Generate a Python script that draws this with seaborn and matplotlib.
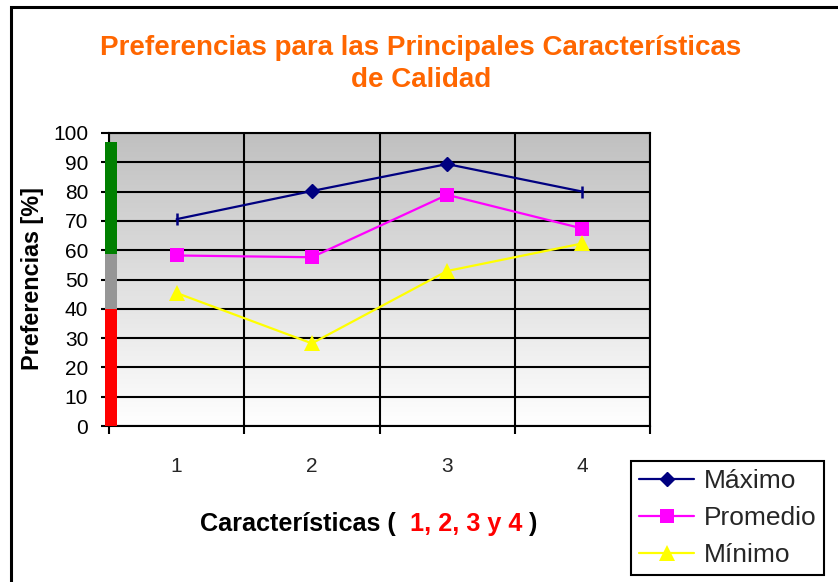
import numpy as np
import pandas as pd
import matplotlib
matplotlib.use("Agg")
import matplotlib.pyplot as plt
from matplotlib.lines import Line2D
from matplotlib.patches import Rectangle
import matplotlib.transforms as mtransforms
import seaborn as sns

# Data
caracteristicas = [1, 2, 3, 4]
maximo = [70.6, 80.2, 89.4, 80.0]
promedio = [58.2, 57.6, 78.9, 67.4]
minimo = [45.4, 28.2, 52.9, 62.3]
series_names = ["Máximo", "Promedio", "Mínimo"]
y_ticks = list(range(0, 101, 10))
# Colour scale on the value axis: (bottom, top, colour)
bandas = [(0, 40, "#FF0000"), (40, 58.7, "#969696"), (58.7, 97, "#008000")]

sns.set_theme(style="white")
plt.rcParams["font.family"] = ["Liberation Sans", "DejaVu Sans"]

W, H = 838, 582
fig = plt.figure(figsize=(W / 100, H / 100), dpi=100)
ax = fig.add_axes([109 / W, 1 - 426 / H, (650 - 109) / W, (426 - 133) / H])

# Grey-to-white gradient behind the plot area
grad = np.linspace(0, 1, 256).reshape(-1, 1)
cmap = matplotlib.colors.LinearSegmentedColormap.from_list("g", ["#C0C0C0", "#FFFFFF"])
ax.imshow(grad, cmap=cmap, aspect="auto", extent=[0, 1, 0, 1],
          transform=ax.transAxes, zorder=0, interpolation="bilinear")

df = pd.DataFrame({
    "Característica": caracteristicas * 3,
    "Valor": maximo + promedio + minimo,
    "Serie": np.repeat(series_names, len(caracteristicas)),
})

colors = {"Máximo": "#000080", "Promedio": "#FF00FF", "Mínimo": "#FFFF00"}

d_max = df[df["Serie"] == "Máximo"]
sns.lineplot(data=d_max, x="Característica", y="Valor", color=colors["Máximo"],
             lw=1.6, ax=ax, legend=False, zorder=3)
ax.plot(d_max["Característica"].iloc[1:3], d_max["Valor"].iloc[1:3], ls="none",
        marker="D", ms=7.5, color=colors["Máximo"], zorder=4)
ax.plot(d_max["Característica"].iloc[[0, 3]], d_max["Valor"].iloc[[0, 3]], ls="none",
        marker="|", ms=9, mew=1.8, color=colors["Máximo"], zorder=4)

d_prom = df[df["Serie"] == "Promedio"]
sns.lineplot(data=d_prom, x="Característica", y="Valor", color=colors["Promedio"],
             lw=1.6, marker="s", markersize=10.5, markeredgewidth=0,
             ax=ax, legend=False, zorder=3)

d_min = df[df["Serie"] == "Mínimo"]
sns.lineplot(data=d_min, x="Característica", y="Valor", color=colors["Mínimo"],
             lw=1.6, marker="^", markersize=11, markeredgewidth=0,
             ax=ax, legend=False, zorder=3)

ax.set_xlim(0.5, 4.5)
ax.set_ylim(0, 100)
ax.set_yticks(y_ticks)
ax.set_yticklabels([str(v) for v in y_ticks], fontsize=15, color="black")
ax.set_xticks([0.5, 1.5, 2.5, 3.5, 4.5])
ax.set_xticklabels([])
ax.set_xticks(caracteristicas, minor=True)
ax.set_xticklabels([str(c) for c in caracteristicas], minor=True, fontsize=15)
ax.tick_params(axis="x", which="minor", length=0, pad=22)
ax.tick_params(axis="x", which="major", length=6, width=1.5, color="black", direction="out")
ax.tick_params(axis="y", length=6, width=1.5, color="black", direction="out", pad=9)
ax.tick_params(bottom=True, left=True)
ax.grid(True, axis="y", color="black", lw=1.5, zorder=1)
ax.grid(True, axis="x", which="major", color="black", lw=1.5, zorder=1)
ax.set_axisbelow(False)
for s in ax.spines.values():
    s.set_color("black")
    s.set_linewidth(1.5)
    s.set_zorder(2)
ax.set_xlabel("")
ax.set_ylabel("")
for line in ax.get_xgridlines() + ax.get_ygridlines():
    line.set_zorder(1)

# Coloured scale bar over the value axis
trans = mtransforms.blended_transform_factory(ax.transAxes, ax.transData)
for lo, hi, c in bandas:
    ax.add_patch(Rectangle((-4 / 541, lo), 12 / 541, hi - lo, transform=trans,
                           color=c, clip_on=False, zorder=5, lw=0))

# Titles and axis labels
fig.text(421 / W, 1 - 48 / H, "Preferencias para las Principales Características",
         ha="center", va="center", fontsize=20, fontweight="bold", color="#FF6600")
fig.text(421 / W, 1 - 80 / H, "de Calidad",
         ha="center", va="center", fontsize=20, fontweight="bold", color="#FF6600")
fig.text(32 / W, 1 - 278 / H, "Preferencias [%]", rotation=90, ha="center", va="center",
         fontsize=16.8, fontweight="bold", color="black")

fig.canvas.draw()
renderer = fig.canvas.get_renderer()
parts = [("Características (  ", "black"), ("1, 2, 3 y 4", "#FF0000"), (" )", "black")]
x0 = 200
for s, c in parts:
    t = fig.text(x0 / W, 1 - 524 / H, s, ha="left", va="center", fontsize=18.2,
                 fontweight="bold", color=c)
    bb = t.get_window_extent(renderer)
    x0 = bb.x1

# Figure frame
fig.patches.append(Rectangle((11 / W, -0.1), 1.2, 1 - 7 / H + 0.1, transform=fig.transFigure,
                             fill=False, ec="black", lw=2.2, zorder=10))

handles = [
    Line2D([], [], color=colors["Máximo"], lw=1.6, marker="D", ms=7.5),
    Line2D([], [], color=colors["Promedio"], lw=1.6, marker="s", ms=10.5, mew=0),
    Line2D([], [], color=colors["Mínimo"], lw=1.6, marker="^", ms=11, mew=0),
]
leg = fig.legend(handles, series_names, loc="upper left",
                 bbox_to_anchor=(631 / W, 1 - 461 / H), fontsize=19, frameon=True,
                 fancybox=False, edgecolor="black", framealpha=1, handlelength=2.1,
                 labelspacing=0.5, borderpad=0.3, handletextpad=0.35, borderaxespad=0)
leg.get_frame().set_linewidth(1.5)

fig.savefig("out.png", dpi=100, facecolor="white")
